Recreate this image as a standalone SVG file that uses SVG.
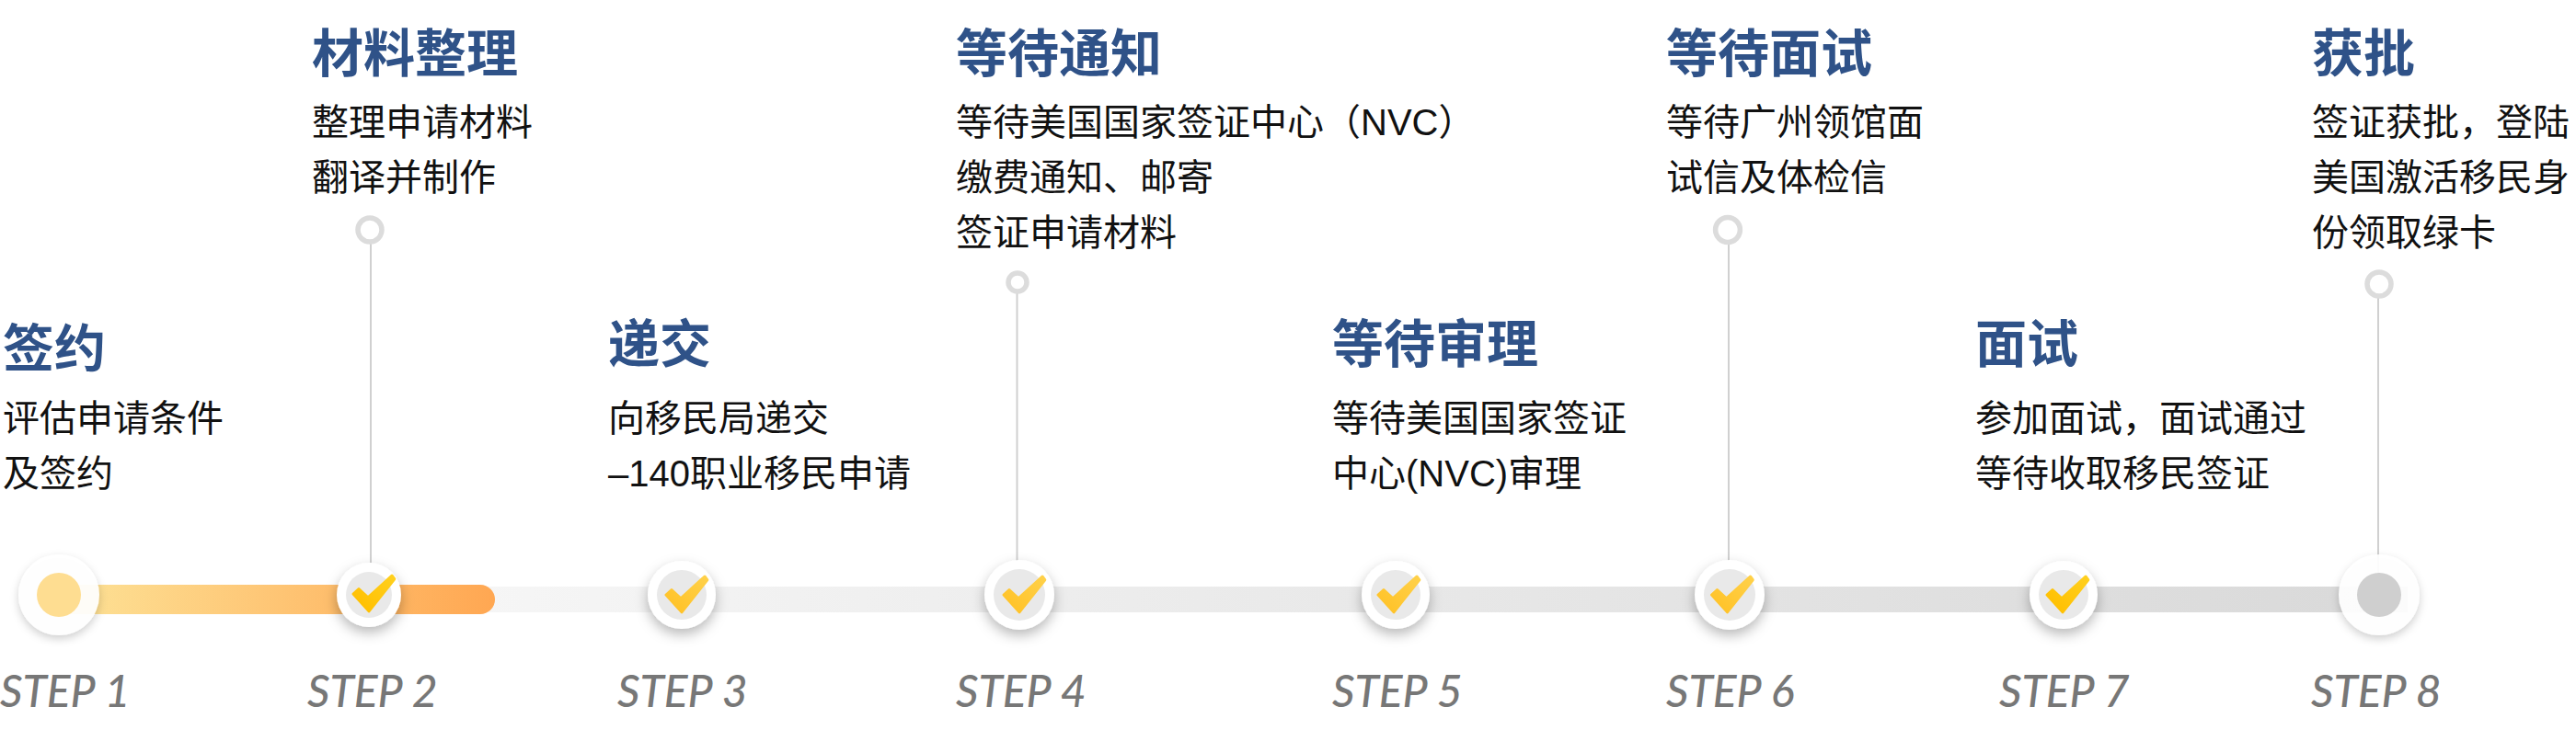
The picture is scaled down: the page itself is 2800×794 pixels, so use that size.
<svg xmlns="http://www.w3.org/2000/svg" width="2800" height="794" viewBox="0 0 2800 794">
<style>
.t{font:700 56px "Noto Sans CJK SC","Liberation Sans",sans-serif;fill:#2f5288}
.d{font:400 40px "Liberation Sans","Noto Sans CJK SC",sans-serif;fill:#111}
.s{font:italic 500 48px Lato,"Liberation Sans",sans-serif;fill:#777}
.stem{stroke:#d0d0d0;stroke-width:2;fill:none}
.ring{fill:#fff;stroke:#dcdcdc;stroke-width:5.5}
.big{fill:#fff;fill-opacity:.93;filter:url(#sh)}
.halo{fill:#fff;filter:url(#sh2)}
.in{fill:#e9e9e9}
.ck{fill:url(#ck);stroke:url(#ck);stroke-width:3;stroke-linejoin:round}
.ck2{fill:url(#ck2);stroke:url(#ck2);stroke-width:3;stroke-linejoin:round}
</style>
<defs>
<linearGradient id="g1" gradientUnits="userSpaceOnUse" x1="56" y1="0" x2="538" y2="0"><stop offset="0" stop-color="#fde498"/><stop offset="1" stop-color="#ffa752"/></linearGradient>
<linearGradient id="g2" gradientUnits="userSpaceOnUse" x1="500" y1="0" x2="2617" y2="0"><stop offset="0" stop-color="#f6f6f6"/><stop offset="1" stop-color="#d9d9d9"/></linearGradient>
<linearGradient id="ck" gradientUnits="userSpaceOnUse" x1="-10" y1="20" x2="25" y2="-20"><stop offset="0" stop-color="#ffc227"/><stop offset="1" stop-color="#ffd14a"/></linearGradient>
<linearGradient id="ck2" gradientUnits="userSpaceOnUse" x1="-10" y1="20" x2="25" y2="-20"><stop offset="0" stop-color="#ffbf00"/><stop offset="1" stop-color="#ffd01f"/></linearGradient>
<path id="chk" class="ck" d="M-19 0L-13 -5.5L-3 3.8L23 -20L25.8 -16.3L-2 18.8Z"/>
<path id="chk2" class="ck2" d="M-19 0L-13 -5.5L-3 3.8L23 -20L25.8 -16.3L-2 18.8Z"/>
<filter id="sh" x="-30%" y="-30%" width="160%" height="170%"><feDropShadow dx="0" dy="4" stdDeviation="5" flood-color="#000" flood-opacity=".2"/></filter>
<filter id="sh2" x="-40%" y="-40%" width="180%" height="190%"><feDropShadow dx="0" dy="6" stdDeviation="7" flood-color="#000" flood-opacity=".28"/></filter>
</defs>
<g id="connectors">
<rect x="500" y="638" width="2117" height="28" fill="url(#g2)"/>
<rect x="56" y="636" width="482" height="32" rx="16" fill="url(#g1)"/>
<path class="stem" d="M403 264V612M1105.500 318V612M1879 264V612M2585 323V638"/>
<circle class="ring" cx="402" cy="250" r="13"/>
<circle class="ring" cx="1106" cy="307" r="10"/>
<circle class="ring" cx="1878" cy="250" r="13.4"/>
<circle class="ring" cx="2586" cy="309" r="13"/>
</g>
<g id="step1"><circle class="big" cx="64" cy="647" r="44"/><circle cx="64" cy="647" r="24" fill="#fedd91"/>
<text class="t" x="3" y="399">签约</text><text class="d" x="3" y="469">评估申请条件</text><text class="d" x="3" y="529">及签约</text><text class="s" x="0" y="769">STEP 1</text></g>
<g id="step2"><circle class="halo" cx="401" cy="647" r="35"/><circle class="in" cx="401" cy="647" r="25"/><use href="#chk2" x="403" y="646"/>
<text class="t" x="339" y="78">材料整理</text><text class="d" x="339" y="147">整理申请材料</text><text class="d" x="339" y="207">翻译并制作</text><text class="s" x="334" y="769">STEP 2</text></g>
<g id="step3"><circle class="halo" cx="741" cy="647" r="37"/><circle class="in" cx="741" cy="647" r="27"/><use href="#chk" x="743" y="647"/>
<text class="t" x="661" y="394">递交</text><text class="d" x="661" y="469">向移民局递交</text><text class="d" x="661" y="529">–140职业移民申请</text><text class="s" x="671" y="769">STEP 3</text></g>
<g id="step4"><circle class="halo" cx="1108" cy="647" r="38"/><circle class="in" cx="1108" cy="647" r="28"/><use href="#chk" x="1110" y="647"/>
<text class="t" x="1039" y="78">等待通知</text><text class="d" x="1039" y="147">等待美国国家签证中心（NVC）</text><text class="d" x="1039" y="207">缴费通知、邮寄</text><text class="d" x="1039" y="267">签证申请材料</text><text class="s" x="1039" y="769">STEP 4</text></g>
<g id="step5"><circle class="halo" cx="1517" cy="647" r="37"/><circle class="in" cx="1517" cy="647" r="27"/><use href="#chk" x="1517" y="647"/>
<text class="t" x="1448" y="394">等待审理</text><text class="d" x="1448" y="469">等待美国国家签证</text><text class="d" x="1448" y="529">中心(NVC)审理</text><text class="s" x="1448" y="769">STEP 5</text></g>
<g id="step6"><circle class="halo" cx="1880" cy="647" r="38"/><circle class="in" cx="1880" cy="647" r="28"/><use href="#chk" x="1879.500" y="647"/>
<text class="t" x="1811" y="78">等待面试</text><text class="d" x="1811" y="147">等待广州领馆面</text><text class="d" x="1811" y="207">试信及体检信</text><text class="s" x="1811" y="769">STEP 6</text></g>
<g id="step7"><circle class="halo" cx="2243" cy="647" r="37"/><circle class="in" cx="2243" cy="647" r="27"/><use href="#chk2" x="2244" y="647"/>
<text class="t" x="2147" y="394">面试</text><text class="d" x="2147" y="469">参加面试，面试通过</text><text class="d" x="2147" y="529">等待收取移民签证</text><text class="s" x="2173" y="769">STEP 7</text></g>
<g id="step8"><circle class="big" cx="2586" cy="647" r="44"/><circle cx="2586" cy="647" r="24" fill="#cfcfcf"/>
<text class="t" x="2513" y="78">获批</text><text class="d" x="2513" y="147">签证获批，登陆</text><text class="d" x="2513" y="207">美国激活移民身</text><text class="d" x="2513" y="267">份领取绿卡</text><text class="s" x="2512" y="769">STEP 8</text></g>
</svg>
